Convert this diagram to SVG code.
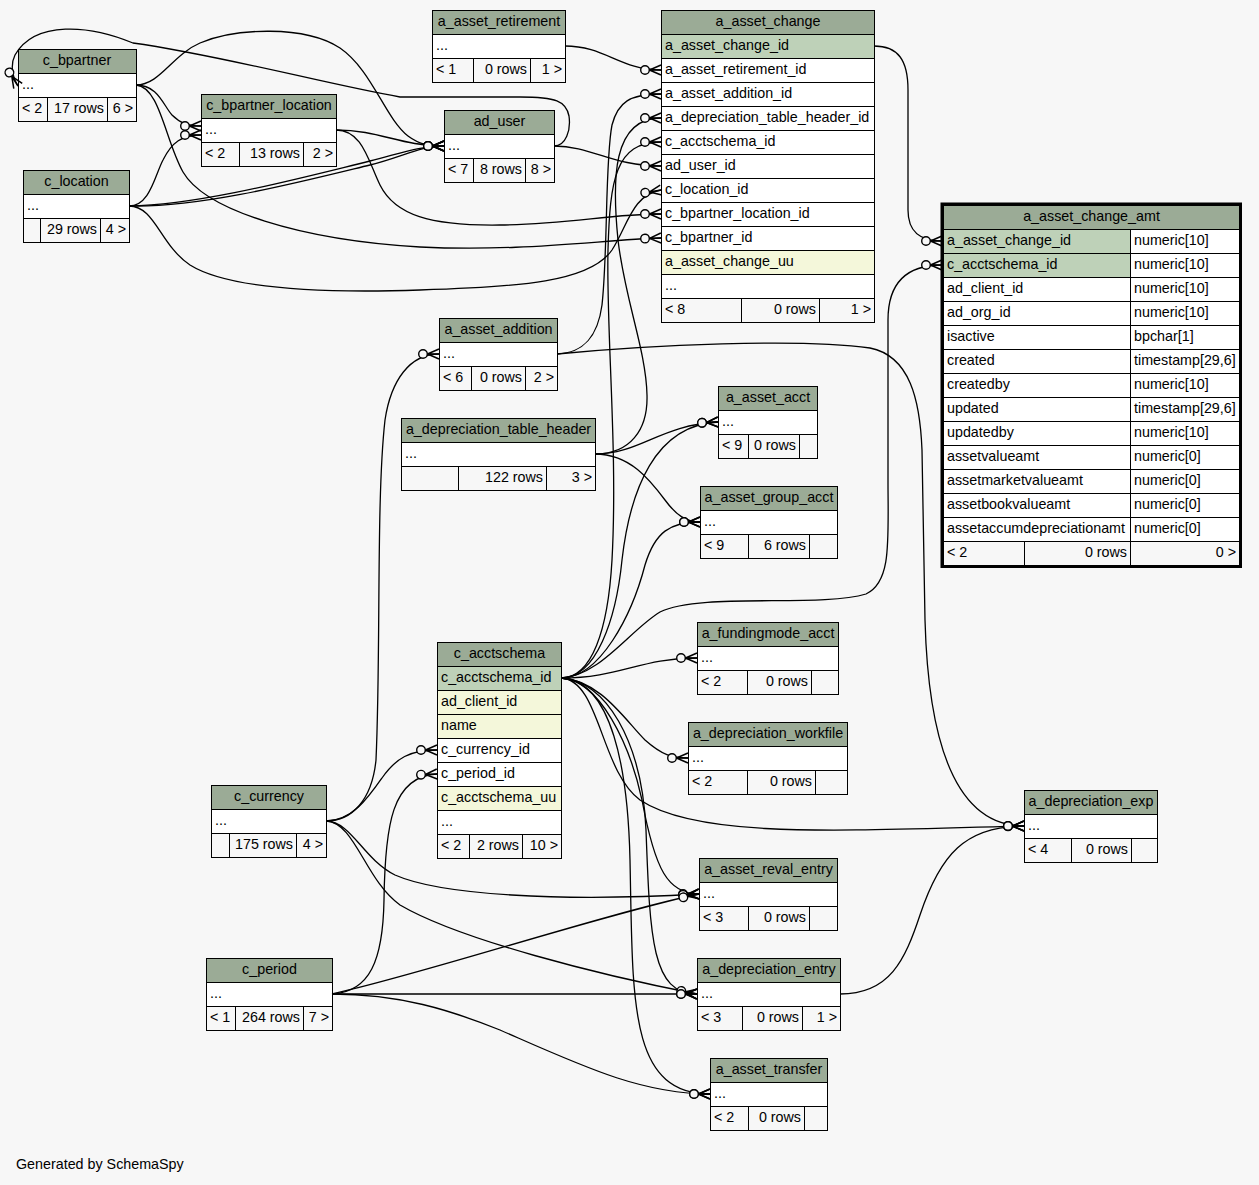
<svg xmlns="http://www.w3.org/2000/svg" width="1259" height="1185" viewBox="0 0 1259 1185">
<style>
.hd{fill:#9bab96;stroke:#000;stroke-width:1}
.pk{fill:#bed1b8;stroke:#000;stroke-width:1}
.ix{fill:#f4f7da;stroke:#000;stroke-width:1}
.bd{fill:#fff;stroke:#000;stroke-width:1}
.ft{fill:#f7f7f7;stroke:#000;stroke-width:1}
text{font-family:"Liberation Sans",Arial,Helvetica,sans-serif;font-size:14.3px;fill:#000}
.c{text-anchor:middle}
.r{text-anchor:end}
#edges path{fill:none;stroke:#000;stroke-width:1.3;marker-end:url(#crow)}
</style>
<defs>
<marker id="crow" markerUnits="userSpaceOnUse" markerWidth="26" markerHeight="16" refX="22" refY="8" orient="auto" overflow="visible">
<circle cx="6" cy="8" r="4.3" fill="#f7f7f7" stroke="#000" stroke-width="1.4"/>
<path d="M10.5,8 L22,3 M10.5,8 L22,8 M10.5,8 L22,13" fill="none" stroke="#000" stroke-width="1.5"/>
</marker>
</defs>
<rect x="0" y="0" width="1259" height="1185" fill="#f7f7f7"/>

<g id="c_bpartner">
<rect class="hd" x="18.5" y="49.5" width="118" height="24"/><text class="c" x="77" y="64.5">c_bpartner</text>
<rect class="bd" x="18.5" y="73.5" width="118" height="24"/><text x="22" y="88.5">...</text>
<rect class="ft" x="18.5" y="97.5" width="29" height="24"/><rect class="ft" x="47.5" y="97.5" width="60" height="24"/><rect class="ft" x="107.5" y="97.5" width="29" height="24"/>
<text x="22" y="112.5">&lt; 2</text><text class="r" x="104" y="112.5">17 rows</text><text class="r" x="133" y="112.5">6 &gt;</text>
</g>

<g id="c_bpartner_location">
<rect class="hd" x="201.5" y="94.5" width="135" height="24"/><text class="c" x="269" y="109.5">c_bpartner_location</text>
<rect class="bd" x="201.5" y="118.5" width="135" height="24"/><text x="205" y="133.5">...</text>
<rect class="ft" x="201.5" y="142.5" width="38" height="24"/><rect class="ft" x="239.5" y="142.5" width="64" height="24"/><rect class="ft" x="303.5" y="142.5" width="33" height="24"/>
<text x="205" y="157.5">&lt; 2</text><text class="r" x="300" y="157.5">13 rows</text><text class="r" x="333" y="157.5">2 &gt;</text>
</g>

<g id="c_location">
<rect class="hd" x="23.5" y="170.5" width="106" height="24"/><text class="c" x="76.5" y="185.5">c_location</text>
<rect class="bd" x="23.5" y="194.5" width="106" height="24"/><text x="27" y="209.5">...</text>
<rect class="ft" x="23.5" y="218.5" width="17" height="24"/><rect class="ft" x="40.5" y="218.5" width="60" height="24"/><rect class="ft" x="100.5" y="218.5" width="29" height="24"/>
<text class="r" x="97" y="233.5">29 rows</text><text class="r" x="126" y="233.5">4 &gt;</text>
</g>

<g id="a_asset_retirement">
<rect class="hd" x="432.5" y="10.5" width="133" height="24"/><text class="c" x="499" y="25.5">a_asset_retirement</text>
<rect class="bd" x="432.5" y="34.5" width="133" height="24"/><text x="436" y="49.5">...</text>
<rect class="ft" x="432.5" y="58.5" width="41" height="24"/><rect class="ft" x="473.5" y="58.5" width="57" height="24"/><rect class="ft" x="530.5" y="58.5" width="35" height="24"/>
<text x="436" y="73.5">&lt; 1</text><text class="r" x="527" y="73.5">0 rows</text><text class="r" x="562" y="73.5">1 &gt;</text>
</g>

<g id="ad_user">
<rect class="hd" x="444.5" y="110.5" width="110" height="24"/><text class="c" x="499.5" y="125.5">ad_user</text>
<rect class="bd" x="444.5" y="134.5" width="110" height="24"/><text x="448" y="149.5">...</text>
<rect class="ft" x="444.5" y="158.5" width="29" height="24"/><rect class="ft" x="473.5" y="158.5" width="52" height="24"/><rect class="ft" x="525.5" y="158.5" width="29" height="24"/>
<text x="448" y="173.5">&lt; 7</text><text class="r" x="522" y="173.5">8 rows</text><text class="r" x="551" y="173.5">8 &gt;</text>
</g>

<g id="a_asset_change">
<rect class="hd" x="661.5" y="10.5" width="213" height="24"/><text class="c" x="768" y="25.5">a_asset_change</text>
<rect class="pk" x="661.5" y="34.5" width="213" height="24"/><text x="665" y="49.5">a_asset_change_id</text>
<rect class="bd" x="661.5" y="58.5" width="213" height="24"/><text x="665" y="73.5">a_asset_retirement_id</text>
<rect class="bd" x="661.5" y="82.5" width="213" height="24"/><text x="665" y="97.5">a_asset_addition_id</text>
<rect class="bd" x="661.5" y="106.5" width="213" height="24"/><text x="665" y="121.5">a_depreciation_table_header_id</text>
<rect class="bd" x="661.5" y="130.5" width="213" height="24"/><text x="665" y="145.5">c_acctschema_id</text>
<rect class="bd" x="661.5" y="154.5" width="213" height="24"/><text x="665" y="169.5">ad_user_id</text>
<rect class="bd" x="661.5" y="178.5" width="213" height="24"/><text x="665" y="193.5">c_location_id</text>
<rect class="bd" x="661.5" y="202.5" width="213" height="24"/><text x="665" y="217.5">c_bpartner_location_id</text>
<rect class="bd" x="661.5" y="226.5" width="213" height="24"/><text x="665" y="241.5">c_bpartner_id</text>
<rect class="ix" x="661.5" y="250.5" width="213" height="24"/><text x="665" y="265.5">a_asset_change_uu</text>
<rect class="bd" x="661.5" y="274.5" width="213" height="24"/><text x="665" y="289.5">...</text>
<rect class="ft" x="661.5" y="298.5" width="80" height="24"/><rect class="ft" x="741.5" y="298.5" width="78" height="24"/><rect class="ft" x="819.5" y="298.5" width="55" height="24"/>
<text x="665" y="313.5">&lt; 8</text><text class="r" x="816" y="313.5">0 rows</text><text class="r" x="871" y="313.5">1 &gt;</text>
</g>

<g id="a_asset_change_amt">
<rect class="hd" x="943.5" y="205.5" width="296" height="24"/><text class="c" x="1091.5" y="220.5">a_asset_change_amt</text>
<rect class="pk" x="943.5" y="229.5" width="187" height="24"/><rect class="bd" x="1130.5" y="229.5" width="109" height="24"/><text x="947" y="244.5">a_asset_change_id</text><text x="1134" y="244.5">numeric[10]</text>
<rect class="pk" x="943.5" y="253.5" width="187" height="24"/><rect class="bd" x="1130.5" y="253.5" width="109" height="24"/><text x="947" y="268.5">c_acctschema_id</text><text x="1134" y="268.5">numeric[10]</text>
<rect class="bd" x="943.5" y="277.5" width="187" height="24"/><rect class="bd" x="1130.5" y="277.5" width="109" height="24"/><text x="947" y="292.5">ad_client_id</text><text x="1134" y="292.5">numeric[10]</text>
<rect class="bd" x="943.5" y="301.5" width="187" height="24"/><rect class="bd" x="1130.5" y="301.5" width="109" height="24"/><text x="947" y="316.5">ad_org_id</text><text x="1134" y="316.5">numeric[10]</text>
<rect class="bd" x="943.5" y="325.5" width="187" height="24"/><rect class="bd" x="1130.5" y="325.5" width="109" height="24"/><text x="947" y="340.5">isactive</text><text x="1134" y="340.5">bpchar[1]</text>
<rect class="bd" x="943.5" y="349.5" width="187" height="24"/><rect class="bd" x="1130.5" y="349.5" width="109" height="24"/><text x="947" y="364.5">created</text><text x="1134" y="364.5">timestamp[29,6]</text>
<rect class="bd" x="943.5" y="373.5" width="187" height="24"/><rect class="bd" x="1130.5" y="373.5" width="109" height="24"/><text x="947" y="388.5">createdby</text><text x="1134" y="388.5">numeric[10]</text>
<rect class="bd" x="943.5" y="397.5" width="187" height="24"/><rect class="bd" x="1130.5" y="397.5" width="109" height="24"/><text x="947" y="412.5">updated</text><text x="1134" y="412.5">timestamp[29,6]</text>
<rect class="bd" x="943.5" y="421.5" width="187" height="24"/><rect class="bd" x="1130.5" y="421.5" width="109" height="24"/><text x="947" y="436.5">updatedby</text><text x="1134" y="436.5">numeric[10]</text>
<rect class="bd" x="943.5" y="445.5" width="187" height="24"/><rect class="bd" x="1130.5" y="445.5" width="109" height="24"/><text x="947" y="460.5">assetvalueamt</text><text x="1134" y="460.5">numeric[0]</text>
<rect class="bd" x="943.5" y="469.5" width="187" height="24"/><rect class="bd" x="1130.5" y="469.5" width="109" height="24"/><text x="947" y="484.5">assetmarketvalueamt</text><text x="1134" y="484.5">numeric[0]</text>
<rect class="bd" x="943.5" y="493.5" width="187" height="24"/><rect class="bd" x="1130.5" y="493.5" width="109" height="24"/><text x="947" y="508.5">assetbookvalueamt</text><text x="1134" y="508.5">numeric[0]</text>
<rect class="bd" x="943.5" y="517.5" width="187" height="24"/><rect class="bd" x="1130.5" y="517.5" width="109" height="24"/><text x="947" y="532.5">assetaccumdepreciationamt</text><text x="1134" y="532.5">numeric[0]</text>
<rect class="ft" x="943.5" y="541.5" width="81" height="24"/><rect class="ft" x="1024.5" y="541.5" width="106" height="24"/><rect class="ft" x="1130.5" y="541.5" width="109" height="24"/>
<text x="947" y="556.5">&lt; 2</text><text class="r" x="1127" y="556.5">0 rows</text><text class="r" x="1236" y="556.5">0 &gt;</text>
<rect x="942" y="204" width="298.5" height="362.5" fill="none" stroke="#000" stroke-width="3"/>
</g>

<g id="a_asset_addition">
<rect class="hd" x="439.5" y="318.5" width="118" height="24"/><text class="c" x="498.5" y="333.5">a_asset_addition</text>
<rect class="bd" x="439.5" y="342.5" width="118" height="24"/><text x="443" y="357.5">...</text>
<rect class="ft" x="439.5" y="366.5" width="32" height="24"/><rect class="ft" x="471.5" y="366.5" width="54" height="24"/><rect class="ft" x="525.5" y="366.5" width="32" height="24"/>
<text x="443" y="381.5">&lt; 6</text><text class="r" x="522" y="381.5">0 rows</text><text class="r" x="554" y="381.5">2 &gt;</text>
</g>

<g id="a_depreciation_table_header">
<rect class="hd" x="401.5" y="418.5" width="194" height="24"/><text class="c" x="498.5" y="433.5">a_depreciation_table_header</text>
<rect class="bd" x="401.5" y="442.5" width="194" height="24"/><text x="405" y="457.5">...</text>
<rect class="ft" x="401.5" y="466.5" width="57" height="24"/><rect class="ft" x="458.5" y="466.5" width="88" height="24"/><rect class="ft" x="546.5" y="466.5" width="49" height="24"/>
<text class="r" x="543" y="481.5">122 rows</text><text class="r" x="592" y="481.5">3 &gt;</text>
</g>

<g id="a_asset_acct">
<rect class="hd" x="718.5" y="386.5" width="99" height="24"/><text class="c" x="768" y="401.5">a_asset_acct</text>
<rect class="bd" x="718.5" y="410.5" width="99" height="24"/><text x="722" y="425.5">...</text>
<rect class="ft" x="718.5" y="434.5" width="30" height="24"/><rect class="ft" x="748.5" y="434.5" width="51" height="24"/><rect class="ft" x="799.5" y="434.5" width="18" height="24"/>
<text x="722" y="449.5">&lt; 9</text><text class="r" x="796" y="449.5">0 rows</text>
</g>

<g id="a_asset_group_acct">
<rect class="hd" x="700.5" y="486.5" width="137" height="24"/><text class="c" x="769" y="501.5">a_asset_group_acct</text>
<rect class="bd" x="700.5" y="510.5" width="137" height="24"/><text x="704" y="525.5">...</text>
<rect class="ft" x="700.5" y="534.5" width="48" height="24"/><rect class="ft" x="748.5" y="534.5" width="61" height="24"/><rect class="ft" x="809.5" y="534.5" width="28" height="24"/>
<text x="704" y="549.5">&lt; 9</text><text class="r" x="806" y="549.5">6 rows</text>
</g>

<g id="a_fundingmode_acct">
<rect class="hd" x="697.5" y="622.5" width="141" height="24"/><text class="c" x="768" y="637.5">a_fundingmode_acct</text>
<rect class="bd" x="697.5" y="646.5" width="141" height="24"/><text x="701" y="661.5">...</text>
<rect class="ft" x="697.5" y="670.5" width="50" height="24"/><rect class="ft" x="747.5" y="670.5" width="64" height="24"/><rect class="ft" x="811.5" y="670.5" width="27" height="24"/>
<text x="701" y="685.5">&lt; 2</text><text class="r" x="808" y="685.5">0 rows</text>
</g>

<g id="a_depreciation_workfile">
<rect class="hd" x="688.5" y="722.5" width="159" height="24"/><text class="c" x="768" y="737.5">a_depreciation_workfile</text>
<rect class="bd" x="688.5" y="746.5" width="159" height="24"/><text x="692" y="761.5">...</text>
<rect class="ft" x="688.5" y="770.5" width="59" height="24"/><rect class="ft" x="747.5" y="770.5" width="68" height="24"/><rect class="ft" x="815.5" y="770.5" width="32" height="24"/>
<text x="692" y="785.5">&lt; 2</text><text class="r" x="812" y="785.5">0 rows</text>
</g>

<g id="c_acctschema">
<rect class="hd" x="437.5" y="642.5" width="124" height="24"/><text class="c" x="499.5" y="657.5">c_acctschema</text>
<rect class="pk" x="437.5" y="666.5" width="124" height="24"/><text x="441" y="681.5">c_acctschema_id</text>
<rect class="ix" x="437.5" y="690.5" width="124" height="24"/><text x="441" y="705.5">ad_client_id</text>
<rect class="ix" x="437.5" y="714.5" width="124" height="24"/><text x="441" y="729.5">name</text>
<rect class="bd" x="437.5" y="738.5" width="124" height="24"/><text x="441" y="753.5">c_currency_id</text>
<rect class="bd" x="437.5" y="762.5" width="124" height="24"/><text x="441" y="777.5">c_period_id</text>
<rect class="ix" x="437.5" y="786.5" width="124" height="24"/><text x="441" y="801.5">c_acctschema_uu</text>
<rect class="bd" x="437.5" y="810.5" width="124" height="24"/><text x="441" y="825.5">...</text>
<rect class="ft" x="437.5" y="834.5" width="32" height="24"/><rect class="ft" x="469.5" y="834.5" width="53" height="24"/><rect class="ft" x="522.5" y="834.5" width="39" height="24"/>
<text x="441" y="849.5">&lt; 2</text><text class="r" x="519" y="849.5">2 rows</text><text class="r" x="558" y="849.5">10 &gt;</text>
</g>

<g id="a_asset_reval_entry">
<rect class="hd" x="699.5" y="858.5" width="138" height="24"/><text class="c" x="768.5" y="873.5">a_asset_reval_entry</text>
<rect class="bd" x="699.5" y="882.5" width="138" height="24"/><text x="703" y="897.5">...</text>
<rect class="ft" x="699.5" y="906.5" width="49" height="24"/><rect class="ft" x="748.5" y="906.5" width="61" height="24"/><rect class="ft" x="809.5" y="906.5" width="28" height="24"/>
<text x="703" y="921.5">&lt; 3</text><text class="r" x="806" y="921.5">0 rows</text>
</g>

<g id="a_depreciation_entry">
<rect class="hd" x="697.5" y="958.5" width="143" height="24"/><text class="c" x="769" y="973.5">a_depreciation_entry</text>
<rect class="bd" x="697.5" y="982.5" width="143" height="24"/><text x="701" y="997.5">...</text>
<rect class="ft" x="697.5" y="1006.5" width="45" height="24"/><rect class="ft" x="742.5" y="1006.5" width="60" height="24"/><rect class="ft" x="802.5" y="1006.5" width="38" height="24"/>
<text x="701" y="1021.5">&lt; 3</text><text class="r" x="799" y="1021.5">0 rows</text><text class="r" x="837" y="1021.5">1 &gt;</text>
</g>

<g id="a_asset_transfer">
<rect class="hd" x="710.5" y="1058.5" width="117" height="24"/><text class="c" x="769" y="1073.5">a_asset_transfer</text>
<rect class="bd" x="710.5" y="1082.5" width="117" height="24"/><text x="714" y="1097.5">...</text>
<rect class="ft" x="710.5" y="1106.5" width="38" height="24"/><rect class="ft" x="748.5" y="1106.5" width="56" height="24"/><rect class="ft" x="804.5" y="1106.5" width="23" height="24"/>
<text x="714" y="1121.5">&lt; 2</text><text class="r" x="801" y="1121.5">0 rows</text>
</g>

<g id="c_currency">
<rect class="hd" x="211.5" y="785.5" width="115" height="24"/><text class="c" x="269" y="800.5">c_currency</text>
<rect class="bd" x="211.5" y="809.5" width="115" height="24"/><text x="215" y="824.5">...</text>
<rect class="ft" x="211.5" y="833.5" width="18" height="24"/><rect class="ft" x="229.5" y="833.5" width="67" height="24"/><rect class="ft" x="296.5" y="833.5" width="30" height="24"/>
<text class="r" x="293" y="848.5">175 rows</text><text class="r" x="323" y="848.5">4 &gt;</text>
</g>

<g id="c_period">
<rect class="hd" x="206.5" y="958.5" width="126" height="24"/><text class="c" x="269.5" y="973.5">c_period</text>
<rect class="bd" x="206.5" y="982.5" width="126" height="24"/><text x="210" y="997.5">...</text>
<rect class="ft" x="206.5" y="1006.5" width="29" height="24"/><rect class="ft" x="235.5" y="1006.5" width="68" height="24"/><rect class="ft" x="303.5" y="1006.5" width="29" height="24"/>
<text x="210" y="1021.5">&lt; 1</text><text class="r" x="300" y="1021.5">264 rows</text><text class="r" x="329" y="1021.5">7 &gt;</text>
</g>

<g id="a_depreciation_exp">
<rect class="hd" x="1024.5" y="790.5" width="133" height="24"/><text class="c" x="1091" y="805.5">a_depreciation_exp</text>
<rect class="bd" x="1024.5" y="814.5" width="133" height="24"/><text x="1028" y="829.5">...</text>
<rect class="ft" x="1024.5" y="838.5" width="47" height="24"/><rect class="ft" x="1071.5" y="838.5" width="60" height="24"/><rect class="ft" x="1131.5" y="838.5" width="26" height="24"/>
<text x="1028" y="853.5">&lt; 4</text><text class="r" x="1128" y="853.5">0 rows</text>
</g>

<g id="edges">
<path d="M565,46 C605,46 620,70 661,70"/>
<path d="M557,354 C585,353 598,335 602,305 C608,250 605,160 612,125 C618,102 630,94 661,94"/>
<path d="M595,454 C630,454 648,430 647,395 C646,350 625,300 618,240 C612,180 612,118 661,118"/>
<path d="M561,678 C592,678 608,630 612,560 C618,450 606,330 608,250 C610,180 615,142 661,142"/>
<path d="M554,146 C592,146 612,166 661,166"/>
<path d="M129,206 C155,206 160,245 190,265 C230,290 330,293 420,290 C520,287 590,282 612,250 C628,225 632,195 661,190"/>
<path d="M336,130 C362,130 368,160 380,185 C395,215 430,226 500,225 C570,224 610,214 661,214"/>
<path d="M136,85 C160,87 165,140 183,172 C205,210 300,240 420,247 C520,252 600,240 661,238"/>
<path d="M874,46 C898,46 908,60 908,90 L908,210 C908,232 920,241 942,241"/>
<path d="M561,678 C600,676 630,630 660,612 C700,592 820,608 866,594 C892,582 888,540 888,480 L888,320 C888,285 905,265 942,265"/>
<path d="M554,146 C566,146 571,130 569,116 C566,101 556,97 520,97 L400,97 C330,85 220,55 133,43 C90,25 35,20 15,55 C11,63 11,75 18,86"/>
<path d="M136,85 C160,85 172,55 200,43 C235,28 305,25 340,48 C372,70 385,118 408,136 C420,145 430,146 444,146"/>
<path d="M136,85 C158,85 163,105 172,115 C180,123 188,126 201,126"/>
<path d="M129,206 C150,206 155,175 163,160 C172,142 182,135 201,135"/>
<path d="M336,130 C380,130 400,146 444,146"/>
<path d="M129,206 C200,208 300,182 370,165 C405,156 420,146 444,146"/>
<path d="M129,206 C200,205 300,178 370,161 C405,152 420,146 444,146"/>
<path d="M557,354 C650,345 800,338 870,348 C910,356 920,400 922,450 L925,620 C928,730 950,826 1024,826"/>
<path d="M595,454 C640,454 660,425 718,422"/>
<path d="M595,454 C630,454 650,480 665,500 C676,515 686,522 700,522"/>
<path d="M561,678 C596,678 616,620 622,560 C630,490 655,425 718,422"/>
<path d="M561,678 C600,678 632,615 645,565 C655,532 670,522 700,522"/>
<path d="M561,678 C620,678 640,658 697,658"/>
<path d="M561,678 C600,680 625,720 645,740 C662,755 672,758 688,758"/>
<path d="M561,678 C600,680 600,770 640,800 C700,840 850,830 1024,826"/>
<path d="M561,678 C600,680 630,745 642,800 C655,870 668,894 699,894"/>
<path d="M561,678 C605,680 642,740 646,830 C650,940 652,994 697,994"/>
<path d="M561,678 C612,680 628,770 630,860 C633,1000 628,1094 710,1094"/>
<path d="M326,821 C352,821 368,798 382,778 C396,758 410,750 437,750"/>
<path d="M332,994 C370,992 383,960 384,900 C385,825 392,776 437,774"/>
<path d="M326,821 C352,822 362,858 395,875 C440,895 560,902 699,894"/>
<path d="M326,821 C355,822 365,880 400,905 C460,940 600,975 697,994"/>
<path d="M332,994 C420,975 600,915 699,894"/>
<path d="M332,994 L697,994"/>
<path d="M332,994 C400,994 450,1010 500,1030 C580,1065 640,1094 710,1094"/>
<path d="M326,821 C352,821 372,800 376,760 C381,650 376,500 385,420 C391,380 410,354 439,354"/>
<path d="M840,994 C890,994 905,960 920,915 C940,855 965,826 1024,826"/>
</g>

<text x="16" y="1169">Generated by SchemaSpy</text>
</svg>
